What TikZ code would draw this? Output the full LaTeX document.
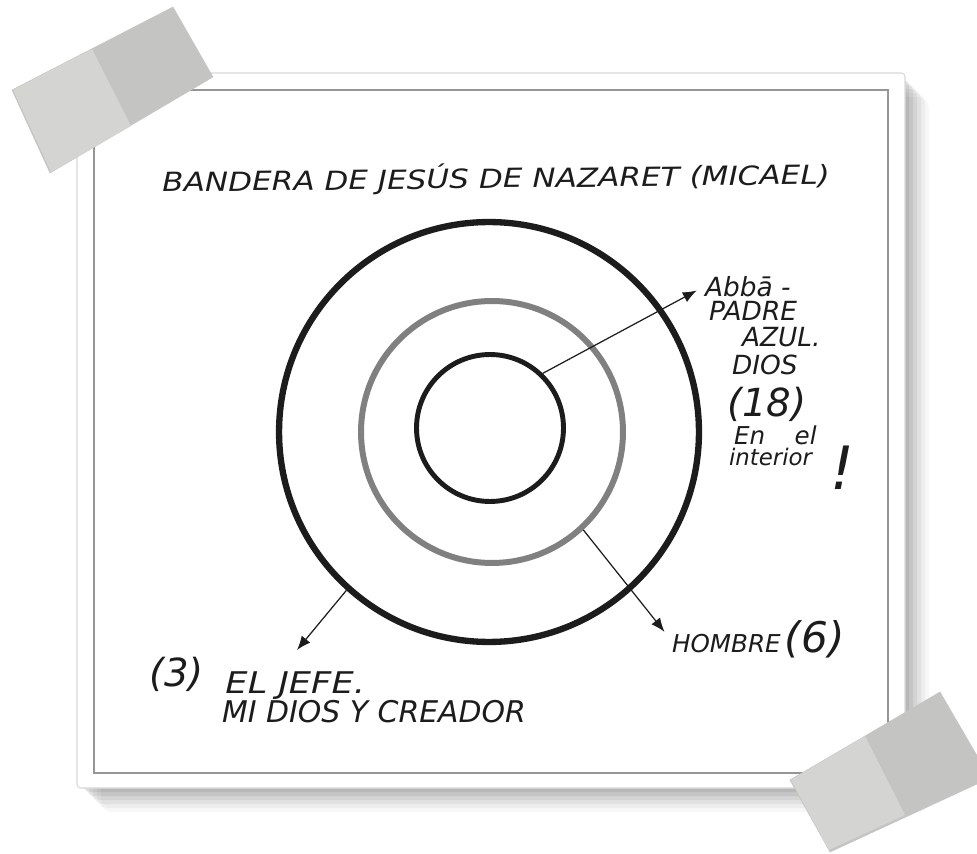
\documentclass[tikz,border=0pt]{standalone}
\usepackage{fontspec}
\setmainfont{DejaVu Sans}
\usetikzlibrary{arrows.meta,positioning}
\definecolor{ink}{RGB}{28,28,28}
\definecolor{midgray}{RGB}{128,128,128}
\definecolor{tapelight}{RGB}{212,212,210}
\definecolor{tapedark}{RGB}{196,196,194}
\definecolor{edgegray}{RGB}{150,150,150}
\newcommand{\handsize}[1]{\fontsize{#1}{#1}\selectfont}
\tikzset{
  ring/.style={circle, draw=ink, inner sep=0pt},
  hand/.style={font=\itshape\handsize{#1}, text=ink, inner sep=1pt, anchor=base west},
  pointer/.style={-{Latex[length=2.8mm,width=2.2mm]}, ink, line width=0.7pt},
  paper/.style={fill=white, draw=gray!30, line width=0.6pt, rounded corners=2pt},
  tape/.style={fill=tapedark, draw=gray!45, line width=0.3pt},
}
\begin{document}
\begin{tikzpicture}[x=0.02cm, y=-0.02cm]
  \useasboundingbox (0,0) rectangle (977,854);
  % sheet with its shadow
  \foreach \d/\o in {24/0.03, 20/0.04, 16/0.05, 12/0.06, 8/0.07, 4/0.07}
    \fill[black, opacity=\o, rounded corners=6pt] (77+\d,73+\d) rectangle (905+\d,788+\d);
  \draw[paper] (77,73) rectangle (905,788);
  \draw[edgegray, line width=1pt] (94,90) rectangle (888,773);

  % the three rings
  \node[ring, minimum size=8.4cm, line width=3.6pt] (outer) at (489,432) {};
  \node[ring, draw=midgray, minimum size=5.24cm, line width=3.4pt] (mid) at (492,432) {};
  \node[ring, minimum size=2.94cm, line width=2.8pt] (inner) at (490,428) {};

  % texts
  \node[hand=15, xscale=1.18, transform shape, rotate=0.8] (title) at (160,192)
       {BANDERA DE JESÚS DE NAZARET (MICAEL)};
  \node[hand=15] (abba) at (703,297) {Abbā -};
  \node[hand=15] (padre) at (707,321) {PADRE};
  \node[hand=15] (azul) at (740,347) {AZUL.};
  \node[hand=15] (dios) at (730,375) {DIOS};
  \node[hand=22] (n18) at (725,417) {(18)};
  \node[hand=14] (enel) at (732,445) {En\hspace{1.2em}el};
  \node[hand=13] (interior) at (727,466) {interior};
  \node[hand=34] (bang) at (828,490) {!};
  \node[hand=14] (hombre) at (670,652) {HOMBRE\,{\handsize{24}(6)}};
  \node[hand=22] (n3) at (147,686) {(3)};
  \node[hand=17, xscale=1.18, transform shape] (jefe) at (223,693) {EL JEFE.};
  \node[hand=17] (creador) at (220,722) {MI DIOS Y CREADOR};
  \coordinate (jefetip) at (297,650);

  % pointers
  \draw[pointer, shorten >=4pt] (inner.46) -- (abba.west);
  \draw[pointer, shorten >=5pt] (mid.-47) -- (hombre.west);
  \draw[pointer] (outer.228) -- (jefetip);

  % tape strips
  \draw[tape] (12,90) -- (173,7) -- (213,77) -- (50,173) -- cycle;
  \fill[tapelight] (13,90) -- (92,49) -- (131,126) -- (51,172) -- cycle;
  \draw[tape] (790,780) -- (940,692) -- (990,778) -- (830,852) -- cycle;
  \fill[tapelight] (791,780) -- (865,736) -- (905,815) -- (829,850) -- cycle;
\end{tikzpicture}
\end{document}
